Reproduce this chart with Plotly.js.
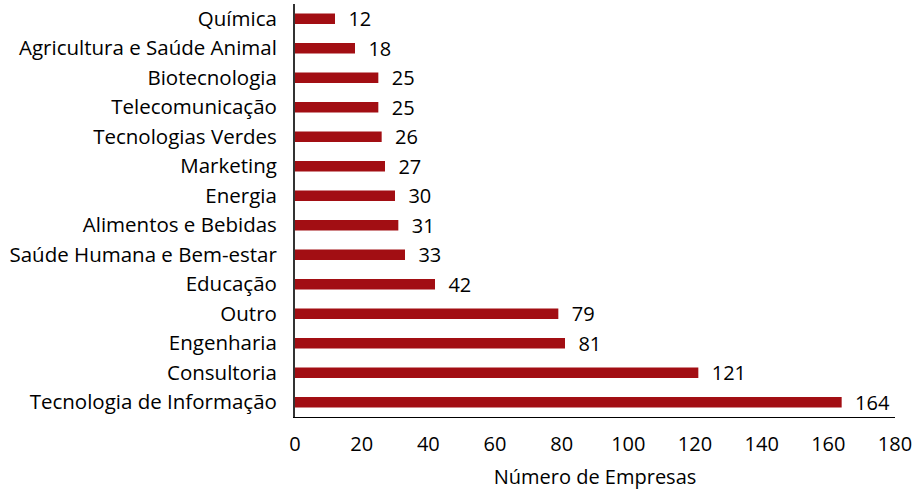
<!DOCTYPE html>
<html><head><meta charset="utf-8">
<script src="https://cdn.plot.ly/plotly-3.0.1.min.js"></script>
<style>html,body{margin:0;padding:0;background:#fff}</style>
</head><body><div id="chart" style="width:919px;height:490px"></div>
<script>
const categories = ["Química","Agricultura e Saúde Animal","Biotecnologia","Telecomunicação","Tecnologias Verdes","Marketing","Energia","Alimentos e Bebidas","Saúde Humana e Bem-estar","Educação","Outro","Engenharia","Consultoria","Tecnologia de Informação"];
const values = [12,18,25,25,26,27,30,31,33,42,79,81,121,164];
const xTicks = [0,20,40,60,80,100,120,140,160,180];

const font = "'Open Sans', sans-serif";
Plotly.newPlot("chart", [{
  type: "bar", orientation: "h",
  y: categories, x: values,
  text: values.map(v => "\u00a0\u00a0" + v), textposition: "outside", cliponaxis: false,
  constraintext: "none",
  textfont: {family: font, size: 20, color: "#000"},
  marker: {color: "#A20E13"},
  width: 0.36, hoverinfo: "none"
}], {
  width: 919, height: 490,
  margin: {l: 295, r: 24, t: 4, b: 73},
  paper_bgcolor: "#fff", plot_bgcolor: "#fff",
  showlegend: false,
  font: {family: font, size: 20, color: "#000"},
  xaxis: {range: [0, 180], tickvals: xTicks, ticktext: xTicks.map(String),
    showgrid: false, zeroline: false, showline: true, linecolor: "#000", linewidth: 1.3,
    ticks: "", ticklabelstandoff: 9, tickfont: {size: 20, family: font},
    title: {text: "Número de Empresas", font: {size: 20, family: font}, standoff: 15}},
  yaxis: {autorange: "reversed", showgrid: false, zeroline: false, showline: true,
    linecolor: "#333", linewidth: 2, ticks: "", ticklabelstandoff: 12,
    tickfont: {size: 20.5, family: font}}
}, {staticPlot: true});
</script></body></html>
